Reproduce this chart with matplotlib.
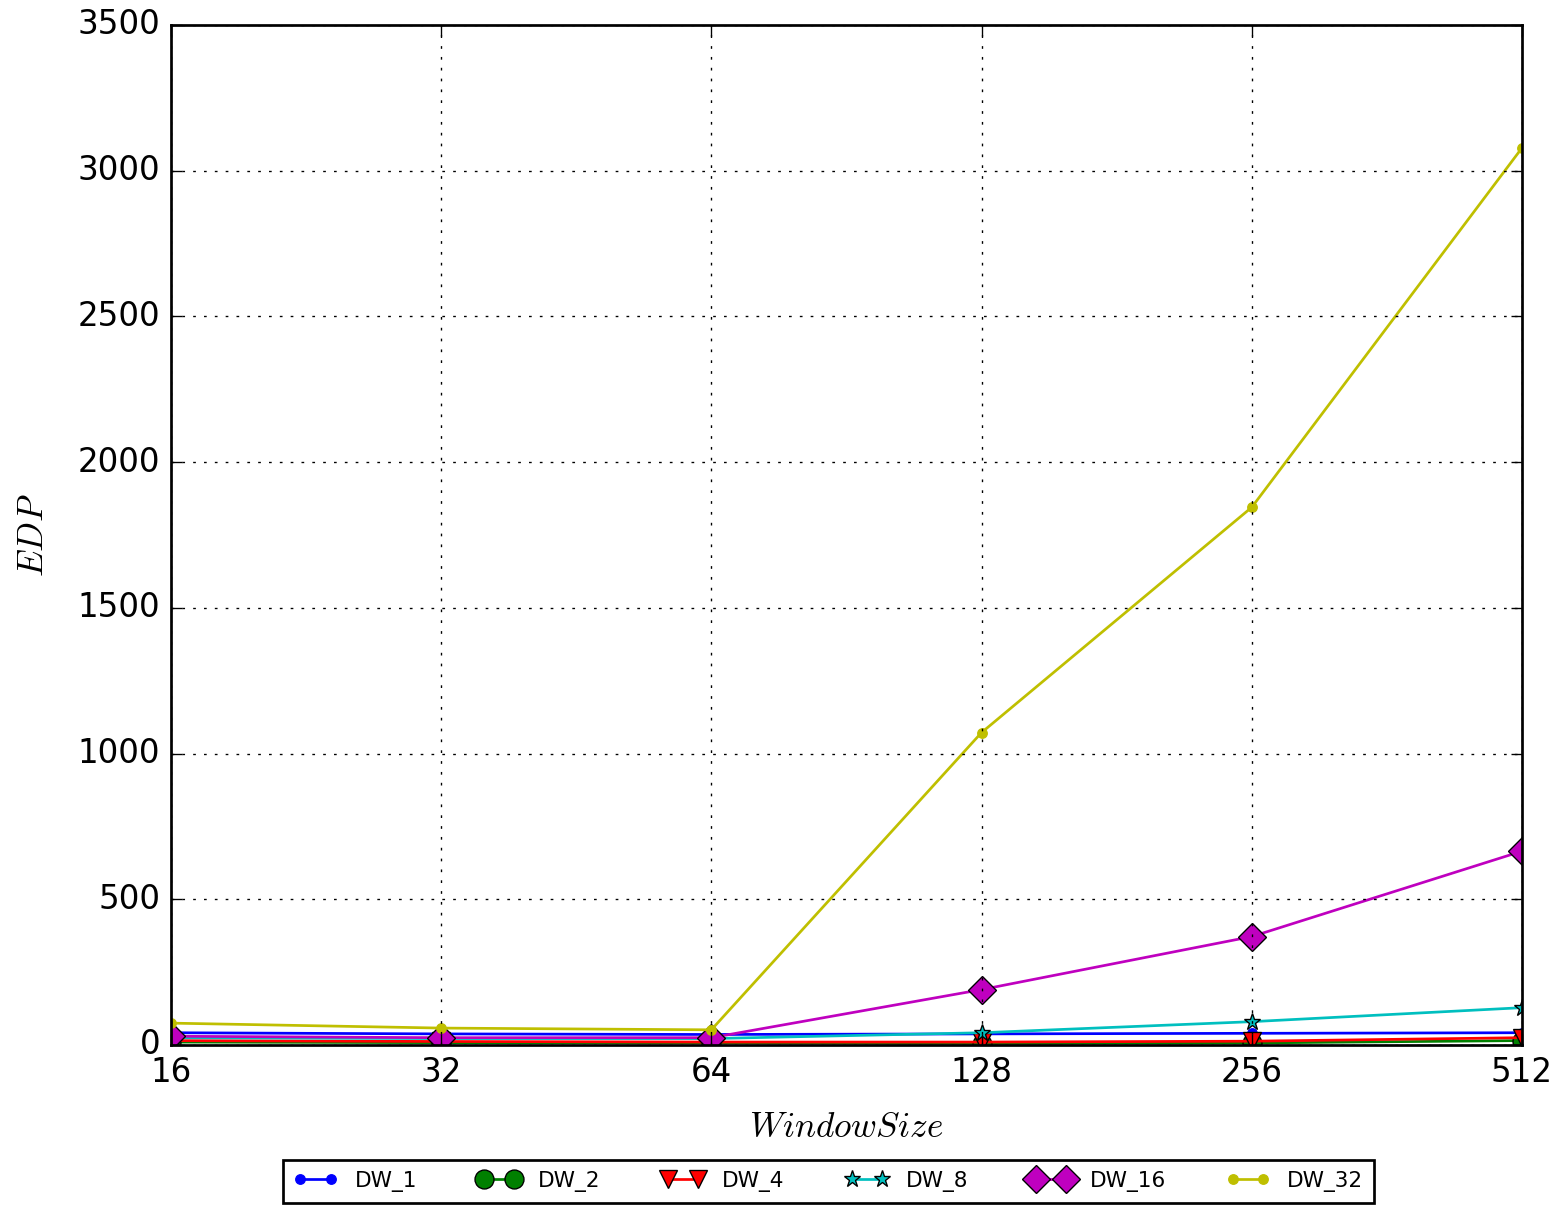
import matplotlib
matplotlib.use("Agg")
import matplotlib.pyplot as plt

plt.style.use("classic")

window_sizes = [16, 32, 64, 128, 256, 512]
dw_1 = [42, 38, 36, 38, 40, 42]
dw_2 = [10, 8, 7, 5, 7, 15]
dw_4 = [15, 12, 10, 10, 13, 25]
dw_8 = [25, 22, 22, 42, 80, 128]
dw_16 = [30, 25, 25, 190, 372, 665]
dw_32 = [75, 58, 52, 1072, 1845, 3078]

series = [
    ("DW_1", dw_1, "b", ".", 7),
    ("DW_2", dw_2, "g", "o", 7),
    ("DW_4", dw_4, "r", "v", 6.5),
    ("DW_8", dw_8, "c", "*", 6.5),
    ("DW_16", dw_16, "m", "D", 7.5),
    ("DW_32", dw_32, "y", ".", 7),
]

DPI = 195
fig = plt.figure(figsize=(1561 / DPI, 1205 / DPI), dpi=DPI, facecolor="white")
ax = fig.add_axes([0.1095, 0.1328, 0.8655, 0.8465])

for name, vals, col, mk, ms in series:
    mec = col if mk == "." else "black"
    ax.plot(window_sizes, vals, color=col, marker=mk, markersize=ms,
            linewidth=1.0, label=name, markeredgecolor=mec,
            markeredgewidth=0.5)

ax.set_xscale("log", base=2)
ax.set_xlim(16, 512)
ax.set_ylim(0, 3500)
ax.set_xticks(window_sizes)
ax.set_xticklabels([str(w) for w in window_sizes])
ax.minorticks_off()
ax.tick_params(labelsize=12)
ax.grid(True, linestyle=":", color="black")
ax.set_xlabel("$WindowSize$", fontsize=13, labelpad=8)
ax.set_ylabel("$EDP$", fontsize=13, labelpad=10)

fig.legend(loc="center", bbox_to_anchor=(0.5308, 0.0195), ncol=6,
           fontsize=8, numpoints=2, frameon=True, borderaxespad=0,
           columnspacing=2.8, handlelength=2.0, borderpad=0.5)

fig.savefig("out.png", dpi=DPI, facecolor="white")
